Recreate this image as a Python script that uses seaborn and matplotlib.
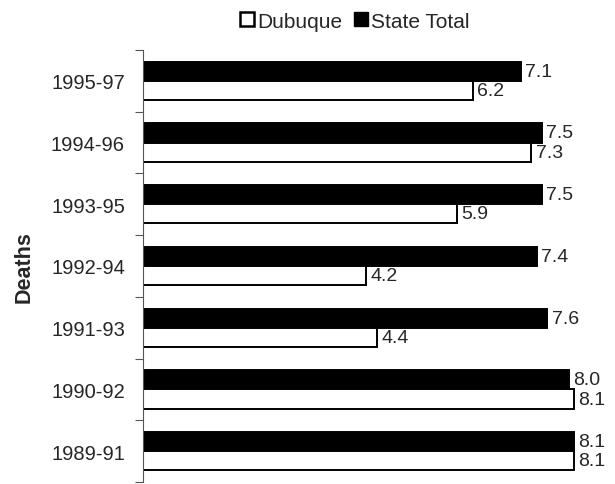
import numpy as np
import pandas as pd
import matplotlib.pyplot as plt
import seaborn as sns
from matplotlib.patches import Patch

periods = ['1995-97', '1994-96', '1993-95', '1992-94', '1991-93', '1990-92', '1989-91']
dubuque = [6.2, 7.3, 5.9, 4.2, 4.4, 8.1, 8.1]
state_total = [7.1, 7.5, 7.5, 7.4, 7.6, 8.0, 8.1]

df = pd.DataFrame({
    'period': periods * 2,
    'rate': state_total + dubuque,
    'series': ['State Total'] * len(periods) + ['Dubuque'] * len(periods),
})

sns.set_style('white')
plt.rcParams['font.family'] = ['Liberation Sans', 'DejaVu Sans']

fig = plt.figure(figsize=(6.15, 4.85), dpi=100)
ax = fig.add_axes([0.2325, 0.004, 0.744, 0.891])

sns.barplot(data=df, y='period', x='rate', hue='series', order=periods,
            hue_order=['State Total', 'Dubuque'],
            palette={'State Total': 'black', 'Dubuque': 'white'},
            width=0.62, edgecolor='black', linewidth=1.4, orient='h',
            legend=False, ax=ax)

# value labels at the end of each bar
for cont in ax.containers:
    ax.bar_label(cont, fmt='%.1f', padding=3, fontsize=14)

ax.set_xlim(0, 8.6)
ax.set_ylim(len(periods) - 0.5, -0.5)
ax.set_xlabel('')
ax.set_xticks([])
ax.set_ylabel('Deaths', fontsize=15.5, fontweight='bold')
ax.yaxis.set_label_coords(-0.237, 0.5)
ax.tick_params(axis='y', which='major', length=0, labelsize=14.5, pad=13)
ax.set_yticks(np.arange(-0.5, len(periods)), minor=True)
ax.tick_params(axis='y', which='minor', left=True, length=6, width=0.8,
               color='#555555', direction='out')

for s in ['top', 'right', 'bottom']:
    ax.spines[s].set_visible(False)
ax.spines['left'].set_color('#555555')
ax.spines['left'].set_linewidth(0.8)

handles = [Patch(facecolor='white', edgecolor='black', linewidth=1.8, label='Dubuque'),
           Patch(facecolor='black', edgecolor='black', label='State Total')]
fig.legend(handles=handles, loc='upper center', bbox_to_anchor=(0.577, 1.0), ncol=2,
           frameon=False, fontsize=15, handlelength=0.65, handleheight=0.65,
           handletextpad=0.15, columnspacing=0.6, borderaxespad=0.2)

fig.savefig('out.png', dpi=100)
